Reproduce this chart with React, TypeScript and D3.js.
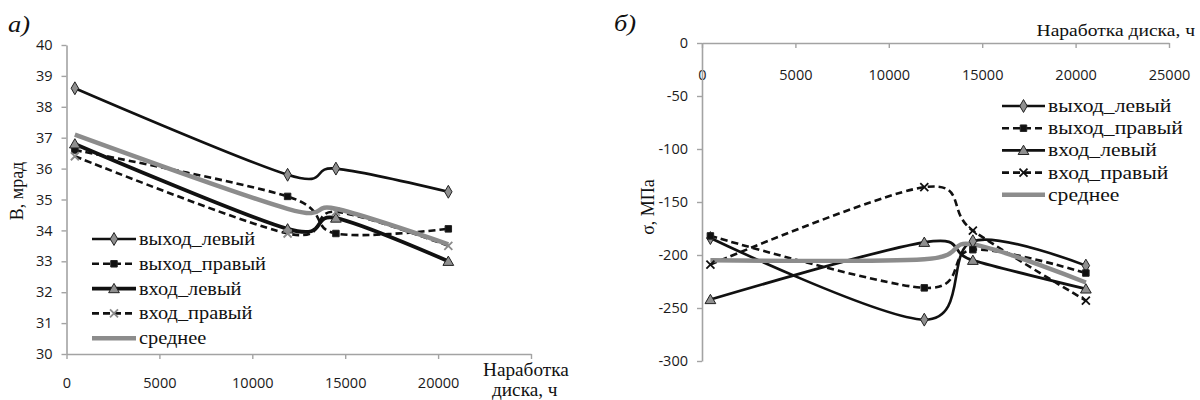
import React, { useEffect, useRef } from 'react'
import * as d3 from 'd3'

// operating time of the disk, h (same for both panels)
const hours = [450, 11900, 14500, 20550]
const seriesNames = ['выход_левый', 'выход_правый', 'вход_левый', 'вход_правый', 'среднее']

// panel а) — B, мрад
const bOutLeft = [38.6, 35.8, 36.0, 35.25]
const bOutRight = [36.6, 35.1, 33.9, 34.05]
const bInLeft = [36.8, 34.05, 34.4, 33.0]
const bInRight = [36.4, 33.9, 34.6, 33.5]
const bMean = [37.1, 34.7, 34.7, 33.55]

// panel б) — σ, МПа
const sOutLeft = [-184, -261, -187, -210]
const sOutRight = [-182, -231, -195, -217]
const sInLeft = [-242, -188, -205, -232]
const sInRight = [-209, -136, -177, -243]
const sMean = [-205, -204, -190, -226]

const xTicks = [0, 5000, 10000, 15000, 20000, 25000]
const yTicksA = [30, 31, 32, 33, 34, 35, 36, 37, 38, 39, 40]
const yTicksB = [0, -50, -100, -150, -200, -250, -300]

const AXIS = '#a3a3a3'
const MEAN = '#8c8c8c'
const SERIF = '"Liberation Serif", "DejaVu Serif", serif'
const SANS = '"Open Sans", "Liberation Sans", sans-serif'

type Style = { dash: string | null; width: number; marker: string | null; color: string }

function App() {
  const svgRef = useRef<SVGSVGElement>(null)

  useEffect(() => {
    const svg = d3.select(svgRef.current)
    svg.selectAll('*').remove()

    const drawMarker = (g: any, kind: string | null, x: number, y: number, xColor: string) => {
      if (!kind) return
      if (kind === 'x') {
        const r = 4
        g.append('path')
          .attr('d', `M${x - r},${y - r}L${x + r},${y + r}M${x - r},${y + r}L${x + r},${y - r}`)
          .attr('stroke', xColor).attr('stroke-width', 1.8).attr('fill', 'none')
        return
      }
      const sym = kind === 'diamond' ? d3.symbolDiamond : kind === 'square' ? d3.symbolSquare : d3.symbolTriangle
      const size = kind === 'diamond' ? 48 : kind === 'square' ? 42 : 50
      g.append('path')
        .attr('d', d3.symbol(sym, size)())
        .attr('transform', `translate(${x},${y + (kind === 'triangle' ? 1 : 0)})`)
        .attr('fill', kind === 'square' ? '#111' : '#8f8f8f')
        .attr('stroke', '#222').attr('stroke-width', 1)
    }

    const stext = (g: any, x: number, y: number, s: string, size: number, sx: number, anchor = 'start', font = SERIF) =>
      g.append('text')
        .attr('transform', `translate(${x},${y}) scale(${sx},1)`)
        .attr('text-anchor', anchor)
        .attr('font-family', font).attr('font-size', size).attr('fill', '#111')
        .text(s)

    const panel = (opts: {
      x: d3.ScaleLinear<number, number>
      y: d3.ScaleLinear<number, number>
      xAxisY: number
      xLabelPad: number
      xFormat: (d: number) => string
      yTicks: number[]
      series: number[][]
      styles: Style[]
      legendX: number
      legendY: number
      legendStep: number
      legendLen: number
      legendSize: number
      legendSx: number
      xColor: string
    }) => {
      const { x, y } = opts
      const g = svg.append('g')

      // axes
      const xa = g.append('g').attr('transform', `translate(0,${opts.xAxisY})`)
        .call(d3.axisBottom(x).tickValues(xTicks).tickSize(5).tickSizeOuter(0).tickPadding(opts.xLabelPad)
          .tickFormat((d: any) => opts.xFormat(d)))
      const ya = g.append('g').attr('transform', `translate(${x.range()[0]},0)`)
        .call(d3.axisLeft(y).tickValues(opts.yTicks).tickSize(5).tickSizeOuter(0).tickPadding(9)
          .tickFormat((d: any) => String(d)))
      for (const a of [xa, ya]) {
        a.select('.domain').attr('stroke', AXIS).attr('stroke-width', 1.6)
        a.selectAll('line').attr('stroke', AXIS).attr('stroke-width', 1.4)
        a.selectAll('text').attr('font-family', SANS).attr('font-size', 14.5).attr('fill', '#1a1a1a')
      }

      // lines
      opts.series.forEach((vals, i) => {
        const st = opts.styles[i]
        const pts: [number, number][] = hours.map((h, j) => [x(h), y(vals[j])])
        g.append('path')
          .attr('d', d3.line().curve(d3.curveCardinal.tension(0))(pts))
          .attr('fill', 'none').attr('stroke', st.color).attr('stroke-width', st.width)
          .attr('stroke-dasharray', st.dash)
      })
      opts.series.forEach((vals, i) => {
        const st = opts.styles[i]
        hours.forEach((h, j) => drawMarker(g, st.marker, x(h), y(vals[j]), opts.xColor))
      })

      // legend
      seriesNames.forEach((name, i) => {
        const st = opts.styles[i]
        const ly = opts.legendY + i * opts.legendStep
        g.append('line')
          .attr('x1', opts.legendX).attr('x2', opts.legendX + opts.legendLen)
          .attr('y1', ly).attr('y2', ly)
          .attr('stroke', st.color).attr('stroke-width', st.width).attr('stroke-dasharray', st.dash)
        drawMarker(g, st.marker, opts.legendX + opts.legendLen / 2, ly, opts.xColor)
        stext(g, opts.legendX + opts.legendLen + 3, ly + 6, name, opts.legendSize, opts.legendSx)
      })
      return g
    }

    // ---- panel а)
    const xA = d3.scaleLinear().domain([0, 25000]).range([66.5, 531])
    const yA = d3.scaleLinear().domain([30, 40]).range([354, 45])
    const gA = panel({
      x: xA, y: yA, xAxisY: 354, xLabelPad: 19,
      xFormat: d => (d === 25000 ? '' : String(d)),
      yTicks: yTicksA,
      series: [bOutLeft, bOutRight, bInLeft, bInRight, bMean],
      styles: [
        { dash: null, width: 2.6, marker: 'diamond', color: '#111' },
        { dash: '7,4', width: 2.6, marker: 'square', color: '#111' },
        { dash: null, width: 3.8, marker: 'triangle', color: '#111' },
        { dash: '7,4', width: 2.6, marker: 'x', color: '#111' },
        { dash: null, width: 4.4, marker: null, color: MEAN },
      ],
      legendX: 92, legendY: 239, legendStep: 24.8, legendLen: 44, legendSize: 18.5, legendSx: 1.1,
      xColor: '#8a8a8a',
    })
    stext(gA, 8, 32, 'а)', 24, 1.1).attr('font-style', 'italic')
    stext(gA, 483, 376, 'Наработка', 18, 1.07)
    stext(gA, 492, 396, 'диска, ч', 18, 1.07)
    gA.append('text')
      .attr('transform', 'translate(23,191) rotate(-90)')
      .attr('text-anchor', 'middle').attr('font-family', SERIF).attr('font-size', 18).attr('fill', '#111')
      .text('В, мрад')

    // ---- panel б)
    const xB = d3.scaleLinear().domain([0, 25000]).range([702, 1169])
    const yB = d3.scaleLinear().domain([-300, 0]).range([361, 43])
    const gB = panel({
      x: xB, y: yB, xAxisY: 43, xLabelPad: 22,
      xFormat: d => String(d),
      yTicks: yTicksB,
      series: [sOutLeft, sOutRight, sInLeft, sInRight, sMean],
      styles: [
        { dash: null, width: 2.6, marker: 'diamond', color: '#111' },
        { dash: '7,4', width: 2.6, marker: 'square', color: '#111' },
        { dash: null, width: 2.8, marker: 'triangle', color: '#111' },
        { dash: '7,4', width: 2.6, marker: 'x', color: '#111' },
        { dash: null, width: 4.4, marker: null, color: MEAN },
      ],
      legendX: 1002, legendY: 106, legendStep: 22.2, legendLen: 43, legendSize: 18, legendSx: 1.2,
      xColor: '#111',
    })
    stext(gB, 614, 31, 'б)', 24, 1.1).attr('font-style', 'italic')
    stext(gB, 1195, 36, 'Наработка диска, ч', 17, 1.15, 'end')
    gB.append('text')
      .attr('transform', 'translate(654,207) rotate(-90)')
      .attr('text-anchor', 'middle').attr('font-family', SERIF).attr('font-size', 18).attr('fill', '#111')
      .text('σ, МПа')
  }, [])

  return (
    <svg
      ref={svgRef}
      width={1200}
      height={400}
      style={{ position: 'absolute', left: 0, top: 0, background: '#fff' }}
    />
  )
}

export default App
